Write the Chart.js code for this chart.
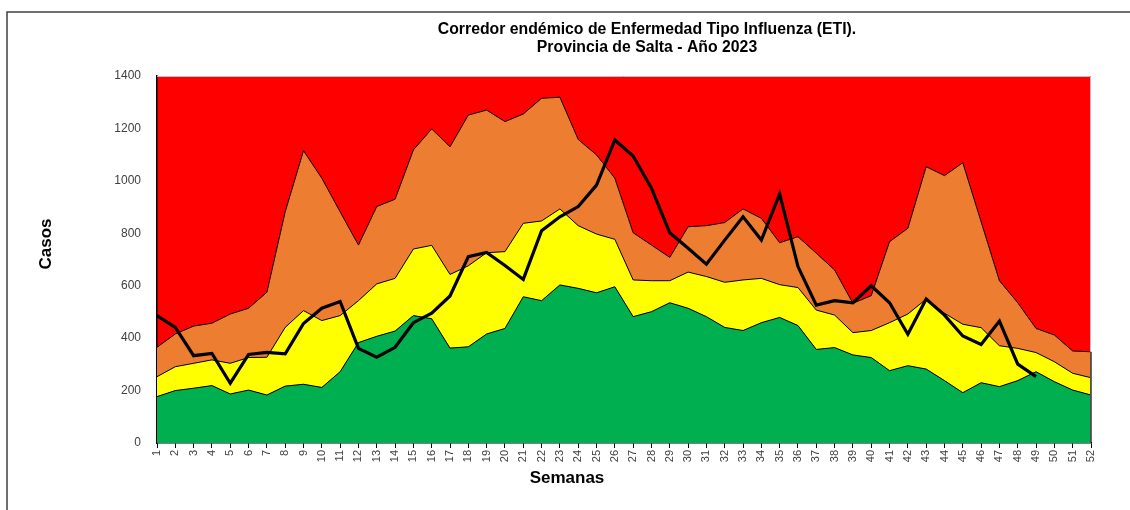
<!DOCTYPE html>
<html>
<head>
<meta charset="utf-8">
<script src="https://cdn.jsdelivr.net/npm/chart.js@4/dist/chart.umd.min.js"></script>
<style>
  html, body { margin: 0; padding: 0; background: #fff; }
  #wrap { width: 1130px; height: 510px; position: relative; }
</style>
</head>
<body>
<div id="wrap"><canvas id="c" width="1130" height="510"></canvas></div>
<script>
const semanas = Array.from({length: 52}, (_, i) => String(i + 1));

const zonaExito = [177,200,209,219,187,202,183,217,224,212,
  272,383,407,427,486,474,362,367,416,437,
  558,543,603,590,573,596,482,501,535,514,
  482,441,429,459,479,448,357,364,336,326,
  276,295,282,238,192,230,215,238,272,234,
  202,183];

const zonaSeguridad = [253,291,304,317,304,326,327,441,505,467,
  486,543,607,628,740,754,643,676,726,730,
  838,847,893,829,797,777,622,619,619,652,
  635,613,622,628,604,593,507,488,421,429,
  459,492,549,495,453,440,371,361,345,310,
  266,249];

const zonaAlerta = [365,416,446,457,492,514,575,882,1115,1010,
  882,755,902,930,1118,1198,1130,1251,1270,1226,
  1255,1315,1319,1158,1099,1010,802,755,708,825,
  829,841,893,857,764,787,724,660,533,562,
  768,819,1054,1020,1069,844,619,535,437,412,
  351,348];

const casos2023 = [486,441,333,342,228,338,346,340,456,514,
  540,361,327,365,459,495,561,711,727,677,
  624,810,863,902,984,1156,1095,972,802,743,
  682,774,863,774,950,673,526,543,535,600,
  535,415,549,488,408,376,465,301,253,null,
  null,null];

const yTicks = [0,200,400,600,800,1000,1200,1400];

const tituloLineas = ["Corredor endémico de Enfermedad Tipo Influenza (ETI).", "Provincia de Salta - Año 2023"];
const tituloY = "Casos";
const tituloX = "Semanas";

const FONT = "'Liberation Sans', Arial, sans-serif";

const deco = {
  id: 'deco',
  beforeDraw(chart) {
    const {ctx, chartArea: a, width, height} = chart;
    ctx.save();
    ctx.fillStyle = '#ffffff';
    ctx.fillRect(0, 0, width, height);
    ctx.fillStyle = '#FF0000';
    ctx.fillRect(a.left, a.top, a.right - a.left, a.bottom - a.top);
    ctx.restore();
  },
  afterDatasetsDraw(chart) {
    const {ctx, chartArea: a, scales} = chart;
    ctx.save();
    ctx.strokeStyle = '#D9B8C4';
    ctx.lineWidth = 1;
    ctx.beginPath();
    ctx.moveTo(a.left, a.top + 0.5);
    ctx.lineTo(a.right - 0.5, a.top + 0.5);
    ctx.lineTo(a.right - 0.5, a.bottom);
    ctx.stroke();
    const xl = scales.x.getPixelForValue(semanas.length - 1);
    ctx.strokeStyle = '#000';
    ctx.lineWidth = 1.2;
    ctx.beginPath();
    ctx.moveTo(xl, scales.y.getPixelForValue(zonaAlerta[zonaAlerta.length - 1]));
    ctx.lineTo(xl, scales.y.getPixelForValue(0));
    ctx.stroke();
    ctx.restore();
  },
  afterDraw(chart) {
    const {ctx} = chart;
    ctx.save();
    ctx.strokeStyle = '#404040';
    ctx.lineWidth = 1.5;
    ctx.beginPath();
    ctx.moveTo(1130, 12);
    ctx.lineTo(7, 12);
    ctx.lineTo(7, 510);
    ctx.stroke();
    ctx.fillStyle = '#000';
    ctx.textAlign = 'center';
    ctx.textBaseline = 'middle';
    ctx.font = "bold 15.8px " + FONT;
    ctx.fillText(tituloLineas[0], 647, 30);
    ctx.fillText(tituloLineas[1], 647, 48);
    ctx.font = "bold 17px " + FONT;
    ctx.fillText(tituloX, 567, 478);
    ctx.translate(46, 244);
    ctx.rotate(-Math.PI / 2);
    ctx.fillText(tituloY, 0, 0);
    ctx.restore();
  }
};

new Chart(document.getElementById('c'), {
  type: 'line',
  data: {
    labels: semanas,
    datasets: [
      { label: 'Casos 2023', data: casos2023, borderColor: '#000', borderWidth: 3.2,
        pointRadius: 0, fill: false, tension: 0, spanGaps: false, borderJoinStyle: 'miter' },
      { label: 'Éxito', data: zonaExito, borderColor: '#000', borderWidth: 1,
        backgroundColor: '#00B050', pointRadius: 0, fill: 'origin', tension: 0 },
      { label: 'Seguridad', data: zonaSeguridad, borderColor: '#000', borderWidth: 1,
        backgroundColor: '#FFFF00', pointRadius: 0, fill: 1, tension: 0 },
      { label: 'Alerta', data: zonaAlerta, borderColor: '#000', borderWidth: 1,
        backgroundColor: '#ED7D31', pointRadius: 0, fill: 2, tension: 0 }
    ]
  },
  options: {
    responsive: false,
    animation: false,
    devicePixelRatio: 1,
    layout: { padding: { left: 0, right: 39, top: 76, bottom: 0 } },
    plugins: {
      legend: { display: false },
      tooltip: { enabled: false },
      title: { display: false },
      filler: { drawTime: 'beforeDatasetsDraw' }
    },
    scales: {
      x: {
        type: 'category',
        offset: false,
        afterFit(s) { s.height = 67; },
        grid: { display: true, drawOnChartArea: false, drawTicks: true, tickLength: 5, color: '#000', lineWidth: 1 },
        border: { display: true, color: '#000', width: 1.5 },
        ticks: { autoSkip: false, minRotation: 90, maxRotation: 90, padding: 2,
          color: '#404040', font: { family: FONT, size: 11 } }
      },
      y: {
        min: 0, max: 1400,
        afterFit(s) { s.width = 157; },
        afterBuildTicks(s) { s.ticks = yTicks.map(v => ({ value: v })); },
        grid: { display: false, drawTicks: false },
        border: { display: true, color: '#000', width: 1.5 },
        ticks: { padding: 16, color: '#404040', font: { family: FONT, size: 12 },
          callback: (v) => String(v) }
      }
    }
  },
  plugins: [deco]
});
</script>
</body>
</html>
